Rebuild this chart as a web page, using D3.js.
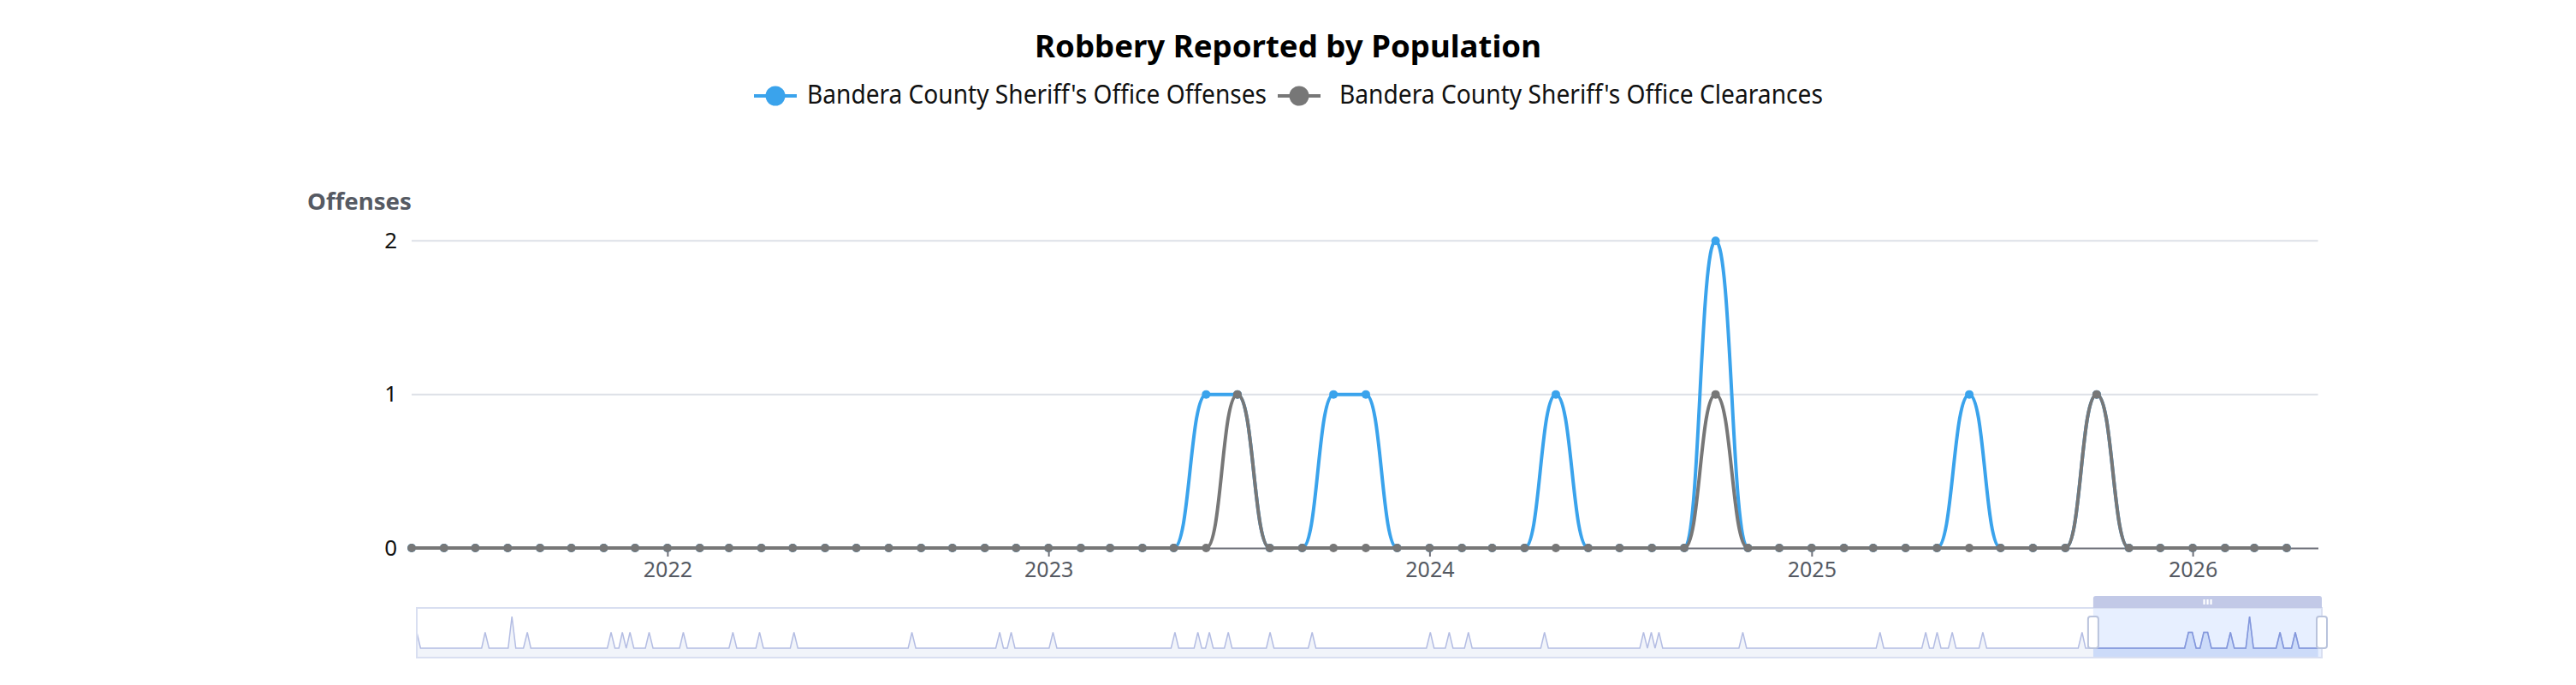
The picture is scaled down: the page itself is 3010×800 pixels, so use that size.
<!DOCTYPE html>
<html><head><meta charset="utf-8">
<script src="https://cdn.jsdelivr.net/npm/d3@7"></script>
<style>
html,body{margin:0;padding:0;background:#fff;}
svg{display:block;font-family:"Noto Sans","Open Sans",sans-serif;}
</style></head><body>
<svg id="chart" width="3010" height="800"></svg>
<script>
// ---------------- data ----------------
const titleText = "Robbery Reported by Population";
const seriesNames = ["Bandera County Sheriff's Office Offenses", "Bandera County Sheriff's Office Clearances"];
const seriesColors = ["#3aa3ec", "#777777"];
const yAxisName = "Offenses";
const yTicks = [0, 1, 2];
const yearTicks = ["2022", "2023", "2024", "2025", "2026"];
const windowRange = ["2021-05-01", "2026-05-01"];   // visible (zoomed) range
const historyRange = ["1984-09-01", "2026-05-01"];  // full range in the slider

// Offenses, one row per year (Jan..Dec), starting 1984; null = no data
const offensesFirstYear = 1984;
const offensesByYear = [
  [null,null,null,null,null,null,null,null,1,0,0,0], // 1984
  [0,0,0,0,0,0,0,0,0,0,0,0], // 1985
  [0,0,1,0,0,0,0,0,0,2,0,0], // 1986
  [0,1,0,0,0,0,0,0,0,0,0,0], // 1987
  [0,0,0,0,0,0,0,0,0,0,0,1], // 1988
  [0,0,1,0,1,0,0,0,0,1,0,0], // 1989
  [0,0,0,0,0,0,1,0,0,0,0,0], // 1990
  [0,0,0,0,0,0,0,1,0,0,0,0], // 1991
  [0,0,1,0,0,0,0,0,0,0,0,1], // 1992
  [0,0,0,0,0,0,0,0,0,0,0,0], // 1993
  [0,0,0,0,0,0,0,0,0,0,0,0], // 1994
  [0,0,0,0,0,0,1,0,0,0,0,0], // 1995
  [0,0,0,0,0,0,0,0,0,0,0,0], // 1996
  [0,0,0,0,0,1,0,0,1,0,0,0], // 1997
  [0,0,0,0,0,0,0,1,0,0,0,0], // 1998
  [0,0,0,0,0,0,0,0,0,0,0,0], // 1999
  [0,0,0,0,0,0,0,0,0,0,0,0], // 2000
  [0,0,0,1,0,0,0,0,0,1,0,0], // 2001
  [1,0,0,0,0,1,0,0,0,0,0,0], // 2002
  [0,0,0,0,1,0,0,0,0,0,0,0], // 2003
  [0,0,0,1,0,0,0,0,0,0,0,0], // 2004
  [0,0,0,0,0,0,0,0,0,0,0,0], // 2005
  [0,0,0,0,0,0,0,0,0,0,1,0], // 2006
  [0,0,0,1,0,0,0,0,1,0,0,0], // 2007
  [0,0,0,0,0,0,0,0,0,0,0,0], // 2008
  [0,0,0,0,1,0,0,0,0,0,0,0], // 2009
  [0,0,0,0,0,0,0,0,0,0,0,0], // 2010
  [0,0,0,0,0,0,1,0,1,0,1,0], // 2011
  [0,0,0,0,0,0,0,0,0,0,0,0], // 2012
  [0,0,0,0,0,0,0,0,1,0,0,0], // 2013
  [0,0,0,0,0,0,0,0,0,0,0,0], // 2014
  [0,0,0,0,0,0,0,0,0,0,0,0], // 2015
  [0,0,0,0,0,0,0,0,1,0,0,0], // 2016
  [0,0,0,0,0,0,0,0,1,0,0,1], // 2017
  [0,0,0,1,0,0,0,0,0,0,0,1], // 2018
  [0,0,0,0,0,0,0,0,0,0,0,0], // 2019
  [0,0,0,0,0,0,0,0,0,0,0,0], // 2020
  [0,1,0,0,0,0,0,0,0,0,0,0], // 2021
  [0,0,0,0,0,0,0,0,0,0,0,0], // 2022
  [0,0,0,0,0,1,1,0,0,1,1,0], // 2023
  [0,0,0,0,1,0,0,0,0,2,0,0], // 2024
  [0,0,0,0,0,1,0,0,0,1,0,0], // 2025
  [0,0,0,0,null,null,null,null,null,null,null,null]  // 2026
];

// Clearances, one row per year (Jan..Dec), starting 2021
const clearancesFirstYear = 2021;
const clearancesByYear = [
  [null,null,null,null,0,0,0,0,0,0,0,0], // 2021
  [0,0,0,0,0,0,0,0,0,0,0,0], // 2022
  [0,0,0,0,0,0,1,0,0,0,0,0], // 2023
  [0,0,0,0,0,0,0,0,0,1,0,0], // 2024
  [0,0,0,0,0,0,0,0,0,1,0,0], // 2025
  [0,0,0,0,null,null,null,null,null,null,null,null]  // 2026
];

// ---------------- helpers ----------------
function flatten(rows, firstYear) {
  const out = [];
  rows.forEach((row, r) => row.forEach((v, m) => {
    if (v !== null) out.push({ date: new Date(firstYear + r, m, 1), v: v });
  }));
  return out;
}
const parse = d3.timeParse("%Y-%m-%d");
const offenses = flatten(offensesByYear, offensesFirstYear);
const clearances = flatten(clearancesByYear, clearancesFirstYear);
const win = windowRange.map(parse);
const hist = historyRange.map(parse);
const inWin = d => d.date >= win[0] && d.date <= win[1];
const series = [offenses.filter(inWin), clearances.filter(inWin)];

const svg = d3.select("#chart");

function fit(sel, w) {
  const n = sel.node().getComputedTextLength();
  if (Math.abs(n - w) / w > 0.01) sel.attr("textLength", w).attr("lengthAdjust", "spacingAndGlyphs");
  return sel;
}

// ---------------- title & legend ----------------
fit(svg.append("text").attr("x", 1505).attr("y", 67).attr("text-anchor", "middle")
  .attr("font-size", 36).attr("font-weight", "bold").attr("fill", "#000").text(titleText), 592);

const legendItems = [
  { x: 881, textX: 943, textW: 537 },
  { x: 1493, textX: 1565, textW: 565 }
];
legendItems.forEach((it, i) => {
  const g = svg.append("g");
  g.append("line").attr("x1", it.x).attr("x2", it.x + 50).attr("y1", 112).attr("y2", 112)
    .attr("stroke", seriesColors[i]).attr("stroke-width", 4);
  g.append("circle").attr("cx", it.x + 25).attr("cy", 112).attr("r", 11.5).attr("fill", seriesColors[i]);
  fit(g.append("text").attr("x", it.textX).attr("y", 121).attr("font-size", 30).attr("fill", "#111")
    .text(seriesNames[i]), it.textW);
});

// ---------------- main chart ----------------
const x = d3.scaleTime().domain(win).range([481, 2708.5]);
const y = d3.scaleLinear().domain([0, 2]).range([640, 281.3]);

// grid
svg.append("g").selectAll("line").data(yTicks.filter(t => t > 0)).join("line")
  .attr("x1", x.range()[0]).attr("x2", x.range()[1])
  .attr("y1", d => y(d)).attr("y2", d => y(d))
  .attr("stroke", "#dde0e7").attr("stroke-width", 2);

// y axis labels
const yAx = svg.append("g").attr("transform", `translate(${x.range()[0]},0)`)
  .call(d3.axisLeft(y).tickValues(yTicks).tickSize(0).tickPadding(17).tickFormat(d3.format("d")));
yAx.select(".domain").remove();
yAx.selectAll("text").attr("font-size", 26).attr("fill", "#111")
  .attr("font-family", "'Noto Sans','Open Sans',sans-serif");

// y axis name
fit(svg.append("text").attr("x", 481).attr("y", 245).attr("text-anchor", "end")
  .attr("font-size", 27).attr("font-weight", "bold").attr("fill", "#565a63").text(yAxisName), 122);

// x axis
const xAx = svg.append("g").attr("transform", "translate(0,640)")
  .call(d3.axisBottom(x).tickValues(yearTicks.map(d => d3.timeParse("%Y")(d)))
    .tickFormat(d3.timeFormat("%Y")).tickSize(10).tickSizeOuter(0).tickPadding(6));
xAx.select(".domain").attr("stroke", "#6e7079").attr("stroke-width", 2);
xAx.selectAll(".tick line").attr("stroke", "#6e7079").attr("stroke-width", 2);
xAx.selectAll("text").attr("font-size", 25).attr("fill", "#555a63")
  .attr("font-family", "'Noto Sans','Open Sans',sans-serif");

// series
const line = d3.line().curve(d3.curveBumpX).x(d => x(d.date)).y(d => y(d.v));
series.forEach((data, i) => {
  const g = svg.append("g");
  g.append("path").datum(data).attr("d", line).attr("fill", "none")
    .attr("stroke", seriesColors[i]).attr("stroke-width", 4).attr("stroke-linejoin", "round");
  g.selectAll("circle").data(data).join("circle")
    .attr("cx", d => x(d.date)).attr("cy", d => y(d.v)).attr("r", 5).attr("fill", seriesColors[i]);
});

// ---------------- slider (data zoom) ----------------
const sx = d3.scaleTime().domain(hist).range([487, 2713]);
const sy = d3.scaleLinear().domain([0, 2]).range([757, 720]);
const sTop = 710, sBot = 768;
const area = d3.area().x(d => sx(d.date)).y0(sBot).y1(d => sy(d.v));
const sline = d3.line().x(d => sx(d.date)).y(d => sy(d.v));

const sg = svg.append("g");
sg.append("path").datum(offenses).attr("d", area).attr("fill", "#d2dbee").attr("fill-opacity", 0.3);
sg.append("path").datum(offenses).attr("d", sline).attr("fill", "none").attr("stroke", "#b4bde3").attr("stroke-width", 1.5);

const wx0 = sx(win[0]), wx1 = sx(win[1]);
svg.append("clipPath").attr("id", "winclip").append("rect")
  .attr("x", wx0).attr("y", sTop).attr("width", wx1 - wx0).attr("height", sBot - sTop);
// filler
sg.append("rect").attr("x", wx0).attr("y", sTop).attr("width", wx1 - wx0).attr("height", sBot - sTop)
  .attr("fill", "rgb(135,175,255)").attr("fill-opacity", 0.2);
const selG = sg.append("g").attr("clip-path", "url(#winclip)");
selG.append("path").datum(offenses).attr("d", area).attr("fill", "#8fb0f7").attr("fill-opacity", 0.2);
selG.append("path").datum(offenses).attr("d", sline).attr("fill", "none").attr("stroke", "#8397dc").attr("stroke-width", 1.5);

// frame
sg.append("rect").attr("x", 487).attr("y", sTop).attr("width", 2713 - 487).attr("height", sBot - sTop)
  .attr("fill", "none").attr("stroke", "#d9dff1").attr("stroke-width", 2);

// move handle bar
const bt = sTop - 14;
sg.append("path")
  .attr("d", `M${wx0},${sTop} L${wx0},${bt + 3} Q${wx0},${bt} ${wx0 + 3},${bt} L${wx1 - 3},${bt} Q${wx1},${bt} ${wx1},${bt + 3} L${wx1},${sTop} Z`)
  .attr("fill", "#c2c9e7");
const gripX = (wx0 + wx1) / 2;
[-4, 0, 4].forEach(o => sg.append("rect").attr("x", gripX + o - 1).attr("y", bt + 4).attr("width", 2.2).attr("height", 6).attr("fill", "#fff"));

// handles
[wx0, wx1].forEach(hx => {
  sg.append("rect").attr("x", hx - 6).attr("y", 720).attr("width", 12).attr("height", 37)
    .attr("rx", 3).attr("fill", "#fff").attr("stroke", "#b9c3dc").attr("stroke-width", 2);
});
</script>
</body></html>
